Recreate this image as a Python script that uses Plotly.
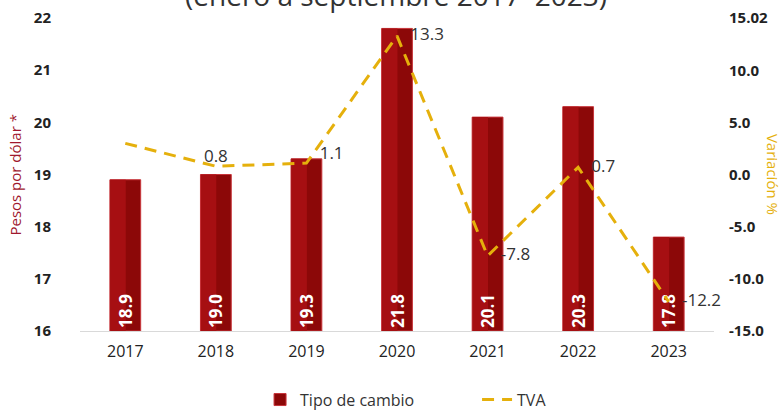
import plotly.graph_objects as go

years = ["2017", "2018", "2019", "2020", "2021", "2022", "2023"]
tipo_cambio = [18.9, 19.0, 19.3, 21.8, 20.1, 20.3, 17.8]
tva = [3.0, 0.8, 1.1, 13.3, -7.8, 0.7, -12.2]
tva_labels = ["", "0.8", "1.1", "13.3", "-7.8", "0.7", "-12.2"]
tva_positions = ["middle right", "top center", "top right", "middle right",
                 "middle right", "middle right", "middle right"]
left_ticks = [16, 17, 18, 19, 20, 21, 22]
right_tickvals = [-15, -10, -5, 0, 5, 10, 15.02]
right_ticktext = ["-15.0", "-10.0", "-5.0", "0.0", "5.0", "10.0", "15.02"]

base_val = 16
heights = [v - base_val for v in tipo_cambio]
pad = "\u00a0\u00a0\u00a0"
tva_text = [(pad + t) if (t and p.endswith("right")) else t
            for t, p in zip(tva_labels, tva_positions)]

fig = go.Figure()
# main bar body (darker right face)
fig.add_trace(go.Bar(
    x=years, y=heights, base=base_val, name="Tipo de cambio",
    width=0.34,
    marker=dict(color="#8c0808", line=dict(color="#c8343a", width=1)),
    hoverinfo="skip", yaxis="y",
))
# brighter left face
fig.add_trace(go.Bar(
    x=years, y=heights, base=base_val, showlegend=False, hoverinfo="skip",
    width=0.17, offset=-0.165,
    marker=dict(color="#a60f12", line=dict(width=0)),
    yaxis="y",
))
# value labels inside bars
fig.add_trace(go.Bar(
    x=years, y=heights, base=base_val, showlegend=False,
    width=0.34, marker=dict(color="rgba(0,0,0,0)", line=dict(width=0)),
    text=[f"{v:.1f}" for v in tipo_cambio], textposition="inside",
    insidetextanchor="start", textangle=-90,
    textfont=dict(family="Open Sans", size=17, color="white", weight="bold"),
    customdata=tipo_cambio, hovertemplate="%{x}: %{customdata}<extra></extra>",
    yaxis="y",
))
fig.add_trace(go.Scatter(
    x=years, y=tva, name="TVA", mode="lines+text", yaxis="y2",
    line=dict(color="#e5b00c", width=3, dash="12px,8px"),
    text=tva_text, textposition=tva_positions,
    textfont=dict(family="Open Sans", size=17, color="#333333"),
    cliponaxis=False,
))

fig.update_layout(
    width=781, height=410,
    margin=dict(l=80, r=67, t=18, b=79, autoexpand=False),
    paper_bgcolor="white", plot_bgcolor="white",
    barmode="overlay",
    showlegend=True,
    legend=dict(orientation="h", x=0.284, xanchor="left", y=-0.165, yanchor="top",
                font=dict(family="Open Sans", size=16, color="#333333"),
                itemwidth=30, entrywidth=172, entrywidthmode="pixels",
                traceorder="normal"),
    font=dict(family="Open Sans"),
    xaxis=dict(showline=True, linecolor="#d9d9d9", linewidth=1, showgrid=False,
               ticks="", ticklabelstandoff=6,
               tickfont=dict(size=16, color="#222222")),
    yaxis=dict(range=[16, 22], tickvals=left_ticks, showgrid=False, zeroline=False,
               ticklabelstandoff=28,
               tickfont=dict(size=15, color="#222222", weight="bold")),
    yaxis2=dict(range=[-15, 15.02], overlaying="y", side="right", showgrid=False,
                zeroline=False, tickvals=right_tickvals, ticktext=right_ticktext,
                ticklabelstandoff=14,
                tickfont=dict(size=15, color="#222222", weight="bold")),
    annotations=[
        dict(text="(enero a septiembre 2017–2023)", xref="paper", yref="paper",
             x=0.499, y=1.072, xanchor="center", yanchor="middle", showarrow=False,
             font=dict(family="Open Sans", size=28, color="#333333")),
        dict(text="Pesos por dólar *", xref="paper", yref="paper",
             x=-0.104, y=0.5, xanchor="center", yanchor="middle", showarrow=False,
             textangle=-90, font=dict(family="Open Sans", size=15, color="#a0182e")),
        dict(text="Variación %", xref="paper", yref="paper",
             x=1.094, y=0.5, xanchor="center", yanchor="middle", showarrow=False,
             textangle=90, font=dict(family="Open Sans", size=15, color="#e5b00c")),
    ],
)

fig.write_html("out.html", config={"displayModeBar": False},
               post_script="document.body.style.margin='0';")
